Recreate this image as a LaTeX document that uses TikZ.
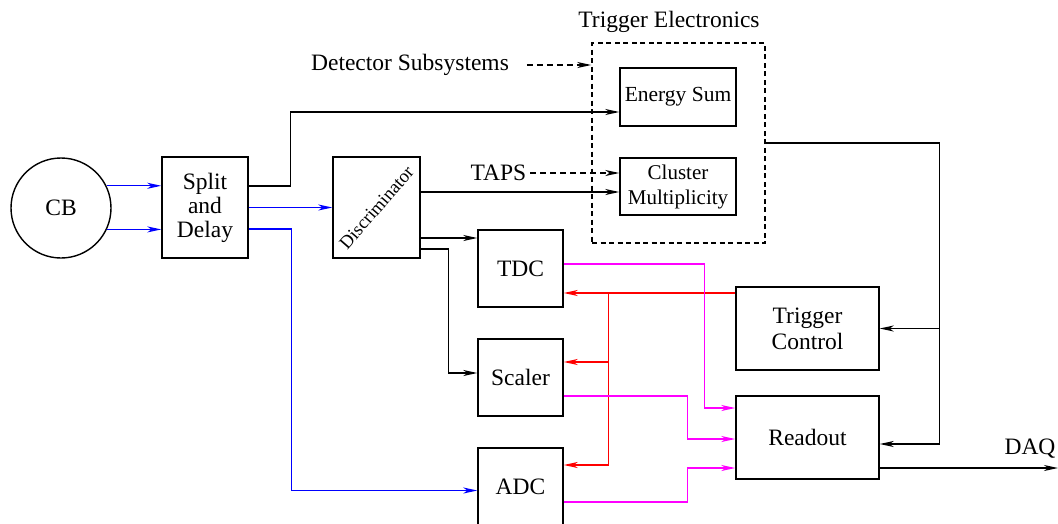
\documentclass[tikz,border=0pt]{standalone}
\usepackage{fontspec}
\setmainfont{Liberation Serif}
\usepackage{tikz}
\usetikzlibrary{arrows.meta,positioning,calc}
\definecolor{trigred}{RGB}{255,0,0}
\definecolor{sigblue}{RGB}{0,0,255}
\definecolor{readmag}{RGB}{255,0,255}

\begin{document}
\begin{tikzpicture}[x=1pt, y=-1pt, line width=1.4pt,
    every node/.style={font=\fontsize{23.5}{25}\selectfont},
    box/.style={draw, align=center, inner sep=0pt},
    sig/.style={-{Stealth[length=14pt, width=6pt, inset=4pt]}},
    dsig/.style={sig, dash pattern=on 6pt off 4pt}]
    \useasboundingbox (0,0) rectangle (1058,523);
    % front end
    \node[draw, circle, minimum size=100pt] (cb) at (61,208) {CB};
    \node[box, minimum width=86pt, minimum height=101pt] (split) at (205,207.5) {Split\\[-1pt]and\\[-1pt]Delay};
    \node[box, minimum width=87pt, minimum height=101pt] (disc) at (376.5,207.5) {\fontsize{18.5}{20}\selectfont\rotatebox{49}{Discriminator}};
    \node[box, minimum width=85pt, minimum height=77pt] (tdc) at (520.5,268.5) {TDC};
    \node[box, minimum width=85pt, minimum height=77pt] (scaler) at (520.5,377.5) {Scaler};
    \node[box, minimum width=85pt, minimum height=77pt] (adc) at (520.5,486.5) {ADC};
    % trigger electronics
    \node[box, dash pattern=on 5pt off 3.5pt, minimum width=173pt, minimum height=200pt] (trig) at (678.5,143) {};
    \node (trigname) at (669,22) {Trigger Electronics};
    \node[box, minimum width=116pt, minimum height=58pt, font=\fontsize{21.5}{24}\selectfont] (esum) at (678,97) {Energy Sum};
    \node[box, minimum width=116pt, minimum height=57pt, font=\fontsize{21}{25}\selectfont] (clus) at (678,186.5) {Cluster\\Multiplicity};
    \node (detsub) at (410,65) {Detector Subsystems};
    \node (taps) at (498.5,173) {TAPS};
    % control and readout
    \node[box, minimum width=143pt, minimum height=83pt] (ctrl) at (807.5,328.5) {Trigger\\[1pt]Control};
    \node[box, minimum width=143pt, minimum height=83pt] (readout) at (807.5,437.5) {Readout};
    \node (daq) at (1030,449) {DAQ};
    \coordinate (daqend) at (1058,468);

    % blue analogue signals
    \draw[sig, sigblue] (cb.26) -- (cb.26 -| split.west);
    \draw[sig, sigblue] (cb.-25) -- (cb.-25 -| split.west);
    \draw[sig, sigblue] (split.east) -- (disc.west);
    \draw[sig, sigblue] ([yshift=-21.5pt]split.east) -- ++(43,0) |- ([yshift=-4pt]adc.west);
    % black logic signals
    \draw[sig] ([yshift=21.5pt]split.east) -- ++(42,0) |- ([yshift=-15pt]esum.west);
    \draw[sig] ([yshift=15.5pt]disc.east) -- ([yshift=15.5pt]disc.east -| clus.west);
    \draw[sig] ([yshift=-30.5pt]disc.east) -- ([yshift=-30.5pt]disc.east -| tdc.west);
    \draw[sig] ([yshift=-41.5pt]disc.east) -- ++(28,0) |- ([yshift=4.5pt]scaler.west);
    \draw[dsig] (taps.east) -- (taps.east -| clus.west);
    \draw[dsig] ([xshift=14pt]detsub.east) -- (detsub.east -| trig.west);
    \draw[sig] (trig.east) -- ++(174,0) coordinate (fb) |- ([yshift=-6.5pt]readout.east);
    \draw[sig] (fb |- ctrl.east) -- (ctrl.east);
    \draw[sig] ([yshift=-30.5pt]readout.east) -- ([yshift=-30.5pt]readout.east -| daqend);
    % red trigger lines
    \draw[sig, trigred] ([yshift=35.5pt]ctrl.west) -- ++(-127,0) coordinate (rbus) -- (rbus -| tdc.east);
    \draw[sig, trigred] (rbus) |- ([yshift=15.5pt]scaler.east);
    \draw[sig, trigred] (rbus) |- ([yshift=21.5pt]adc.east);
    % magenta data lines
    \draw[sig, readmag] ([yshift=4.5pt]tdc.east) -- ++(141,0) |- ([yshift=29.5pt]readout.west);
    \draw[sig, readmag] ([yshift=-18.5pt]scaler.east) -- ++(124,0) |- ([yshift=-1.5pt]readout.west);
    \draw[sig, readmag] ([yshift=-15.5pt]adc.east) -- ++(124,0) |- ([yshift=-30.5pt]readout.west);
\end{tikzpicture}
\end{document}
